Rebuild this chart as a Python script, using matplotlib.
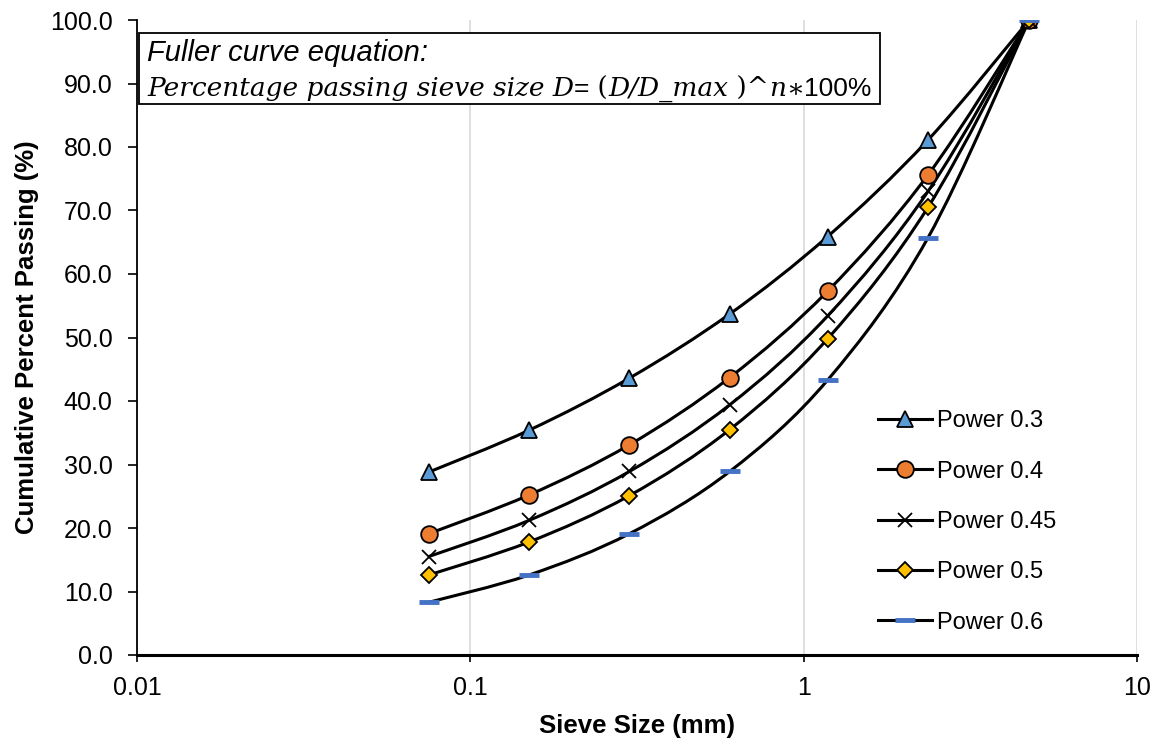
import numpy as np
import matplotlib.pyplot as plt
from matplotlib.path import Path
from matplotlib.patches import PathPatch
from matplotlib.lines import Line2D

# sieve sizes (mm) and cumulative percent passing
sieve_mm = [0.075, 0.15, 0.3, 0.6, 1.18, 2.36, 4.75]
pass_03 = [28.8, 35.4, 43.6, 53.7, 65.9, 81.1, 100.0]
pass_04 = [19.1, 25.2, 33.1, 43.7, 57.3, 75.6, 100.0]
pass_045 = [15.5, 21.2, 28.9, 39.4, 53.4, 73.0, 100.0]
pass_05 = [12.6, 17.8, 25.1, 35.5, 49.8, 70.5, 100.0]
pass_06 = [8.3, 12.6, 19.1, 28.9, 43.3, 65.7, 100.0]
labels = ["Power 0.3", "Power 0.4", "Power 0.45", "Power 0.5", "Power 0.6"]

plt.rcParams['font.family'] = ['Liberation Sans', 'DejaVu Sans']

W, H = 1167, 745
fig = plt.figure(figsize=(W / 100, H / 100), dpi=100)
ax = fig.add_axes([137 / W, 1 - 655 / H, 1000 / W, 635 / H])
ax.set_xscale('log')
ax.set_xlim(0.01, 10)
ax.set_ylim(0, 100)


def smooth_path(xs, ys):
    # Excel-style smoothed line: cubic bezier through the points in log-x space
    lx = np.log10(xs)
    y = np.asarray(ys, float)
    n = len(lx)
    verts = [(xs[0], y[0])]
    codes = [Path.MOVETO]
    for i in range(n - 1):
        p0 = (lx[max(i - 1, 0)], y[max(i - 1, 0)])
        p1 = (lx[i], y[i])
        p2 = (lx[i + 1], y[i + 1])
        p3 = (lx[min(i + 2, n - 1)], y[min(i + 2, n - 1)])
        c1 = (p1[0] + (p2[0] - p0[0]) / 6, p1[1] + (p2[1] - p0[1]) / 6)
        c2 = (p2[0] - (p3[0] - p1[0]) / 6, p2[1] - (p3[1] - p1[1]) / 6)
        for c in (c1, c2, p2):
            verts.append((10 ** c[0], c[1]))
            codes.append(Path.CURVE4)
    return Path(verts, codes)


series = [pass_03, pass_04, pass_045, pass_05, pass_06]
styles = [
    dict(marker='^', markersize=11, markerfacecolor='#5B9BD5', markeredgecolor='black', markeredgewidth=1.3),
    dict(marker='o', markersize=12, markerfacecolor='#ED7D31', markeredgecolor='black', markeredgewidth=1.3),
    dict(marker='x', markersize=10, markerfacecolor='none', markeredgecolor='black', markeredgewidth=1.3),
    dict(marker='D', markersize=8, markerfacecolor='#FFC000', markeredgecolor='black', markeredgewidth=1.3),
    dict(marker='_', markersize=14, markerfacecolor='#4472C4', markeredgecolor='#4472C4', markeredgewidth=3.5),
]

handles = []
for vals, st, lab in zip(series, styles, labels):
    patch = PathPatch(smooth_path(sieve_mm, vals), facecolor='none', edgecolor='black', lw=2.2, zorder=3)
    ax.add_patch(patch)
    ax.plot(sieve_mm, vals, linestyle='none', zorder=4, **st)
    handles.append(Line2D([], [], color='black', lw=2.2, label=lab, **st))

# axes styling
ax.grid(axis='x', which='major', color='#D9D9D9', lw=1.2)
ax.set_axisbelow(True)
ax.spines['top'].set_visible(False)
ax.spines['right'].set_visible(False)
ax.spines['left'].set_color('black')
ax.spines['left'].set_linewidth(1.3)
ax.spines['bottom'].set_linewidth(2.2)
ax.spines['bottom'].set_color('black')
ax.set_yticks(np.arange(0, 101, 10))
ax.set_yticklabels([f"{v:.1f}" for v in range(0, 101, 10)])
ax.set_xticks([0.01, 0.1, 1, 10])
ax.set_xticklabels(["0.01", "0.1", "1", "10"])
ax.xaxis.set_minor_locator(plt.NullLocator())
ax.tick_params(axis='y', length=6.5, width=1.2, color='black', labelsize=18, pad=11)
ax.tick_params(axis='x', length=5, width=1.2, color='black', labelsize=18, pad=10)

ax.set_xlabel("Sieve Size (mm)", fontsize=18.5, fontweight='bold', labelpad=10)
ax.set_ylabel("Cumulative Percent Passing (%)", fontsize=18.5, fontweight='bold', labelpad=8)

leg = fig.legend(handles=handles, loc='center left', bbox_to_anchor=(878 / W, 1 - 522 / H),
                 frameon=False, fontsize=17, handlelength=2.3, labelspacing=1.2,
                 handletextpad=0.2, borderpad=0, borderaxespad=0)

# equation box
ax.add_patch(plt.Rectangle((139 / W, 1 - 104 / H), (880 - 139) / W, (104 - 33) / H,
                           transform=fig.transFigure, facecolor='white', edgecolor='black',
                           lw=1.3, zorder=5, clip_on=False))
fig.text(147 / W, 1 - 53 / H, "Fuller curve equation:", fontsize=21, style='italic',
         va='center', ha='left', zorder=6)

serif = dict(family=['DejaVu Serif'], fontsize=19.0)
sans = dict(fontsize=19)
pieces = [
    ("Percentage passing sieve size D", dict(serif, style='italic')),
    ("=", sans),
    (" (", serif),
    ("D/D_max", dict(serif, style='italic')),
    (" )^", serif),
    ("n", dict(serif, style='italic')),
    ("∗", serif),
    ("100%", sans),
]
renderer = fig.canvas.get_renderer()
x = 147 / W
for txt, kw in pieces:
    t = fig.text(x, 1 - 96 / H, txt, va='baseline', ha='left', zorder=6, **kw)
    bb = t.get_window_extent(renderer)
    x = bb.x1 / W

fig.savefig('out.png', dpi=100)
